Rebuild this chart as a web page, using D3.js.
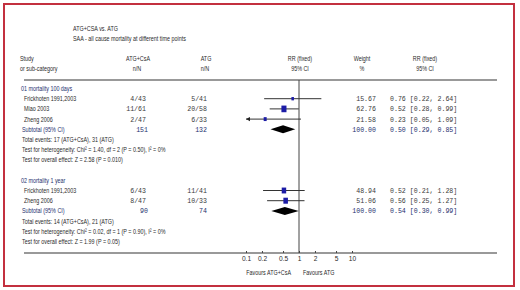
<!DOCTYPE html>
<html>
<head>
<meta charset="utf-8">
<script src="https://cdn.jsdelivr.net/npm/d3@7"></script>
<style>
  body { margin: 0; background: #fff; }
  .sans { font-family: "Liberation Sans", Arial, sans-serif; font-size: 7.4px; fill: #2a2a2a; }
  .mono { font-family: "Liberation Mono", "Courier New", monospace; font-size: 6.6px; fill: #3a3a3a; }
  .sub { fill: #24306e; }
</style>
</head>
<body>
<div id="chart"></div>
<script>
// data
const groups = ["01 mortality 100 days", "02 mortality 1 year"];
const studies = ["Frickhoten 1991,2003", "Miao 2003", "Zheng 2006", "Frickhoten 1991,2003", "Zheng 2006"];
const studyGroup = [0, 0, 0, 1, 1];
const eventsTrt = ["4/43", "11/61", "2/47", "6/43", "8/47"];
const eventsCtl = ["5/41", "20/58", "6/33", "11/41", "10/33"];
const weights = [15.67, 62.76, 21.58, 48.94, 51.06];
const rr = [0.76, 0.52, 0.23, 0.52, 0.56];
const rrLo = [0.22, 0.28, 0.05, 0.21, 0.25];
const rrHi = [2.64, 0.99, 1.09, 1.28, 1.27];
const subTrt = [151, 90];
const subCtl = [132, 74];
const subRR = [0.50, 0.54];
const subLo = [0.29, 0.30];
const subHi = [0.85, 0.99];
const totalEvents = ["Total events: 17 (ATG+CsA), 31 (ATG)", "Total events: 14 (ATG+CsA), 21 (ATG)"];
const hetero = ["Test for heterogeneity: Chi\u00b2 = 1.40, df = 2 (P = 0.50), I\u00b2 = 0%",
                "Test for heterogeneity: Chi\u00b2 = 0.02, df = 1 (P = 0.90), I\u00b2 = 0%"];
const overall = ["Test for overall effect: Z = 2.58 (P = 0.010)", "Test for overall effect: Z = 1.99 (P = 0.05)"];
const axisTicks = [0.1, 0.2, 0.5, 1, 2, 5, 10];

const W = 520, H = 290;
const f2 = d3.format(".2f");

const svg = d3.select("#chart").append("svg")
  .attr("width", W).attr("height", H);

// red frame
svg.append("rect")
  .attr("x", 4).attr("y", 4).attr("width", 510).attr("height", 282)
  .attr("fill", "none").attr("stroke", "#c3303f").attr("stroke-width", 2);

// row scale: 16 text rows between the two rules
const row = d3.scaleLinear().domain([0, 15]).range([88.5, 241.5]);
const x = d3.scaleLog().domain([0.1, 10]).range([246, 352]).clamp(true);
const size = d3.scaleSqrt().domain([0, 100]).range([0, 8.4]);

// condensed text helper
function txt(xp, yp, s, anchor, cls) {
  return svg.append("text")
    .attr("class", cls || "sans")
    .attr("transform", "translate(" + xp + "," + yp + ") scale(0.73,1)")
    .attr("text-anchor", anchor || "start")
    .text(s);
}
function mono(xp, yp, s, anchor, cls) {
  return svg.append("text")
    .attr("class", "mono" + (cls ? " " + cls : ""))
    .attr("x", xp).attr("y", yp)
    .attr("text-anchor", anchor || "start")
    .text(s);
}

// titles
txt(73, 30.5, "ATG+CSA vs. ATG");
txt(73, 40.5, "SAA - all cause mortality at different time points");

// headers
txt(20, 60.5, "Study");
txt(20, 71, "or sub-category");
txt(138, 60.5, "ATG+CsA", "middle");
txt(137, 71, "n/N", "middle");
txt(206, 60.5, "ATG", "middle");
txt(205, 71, "n/N", "middle");
txt(300, 60.5, "RR (fixed)", "middle");
txt(300, 71, "95% CI", "middle");
txt(362, 60.5, "Weight", "middle");
txt(362, 71, "%", "middle");
txt(425, 60.5, "RR (fixed)", "middle");
txt(425, 71, "95% CI", "middle");

// rules
svg.append("line").attr("x1", 24).attr("x2", 497).attr("y1", 80).attr("y2", 80)
  .attr("stroke", "#777").attr("stroke-width", 1.5);
svg.append("line").attr("x1", 24).attr("x2", 497).attr("y1", 253).attr("y2", 253)
  .attr("stroke", "#777").attr("stroke-width", 1.5);

// line of no effect
svg.append("line").attr("x1", x(1)).attr("x2", x(1)).attr("y1", 80).attr("y2", 253)
  .attr("stroke", "#444").attr("stroke-width", 1);

const base = 2.5; // text baseline offset from row centre

groups.forEach(function(gname, g) {
  let r0 = g * 9;
  txt(21, row(r0) + base, gname, "start", "sans sub");

  let idx = d3.range(studies.length).filter(i => studyGroup[i] === g);
  idx.forEach(function(i, k) {
    let yc = row(r0 + 1 + k);
    txt(24, yc + base, studies[i]);
    mono(146, yc + base, eventsTrt[i], "end");
    mono(207, yc + base, eventsCtl[i], "end");
    mono(376, yc + base, f2(weights[i]), "end");
    mono(390, yc + base, f2(rr[i]) + " [" + f2(rrLo[i]) + ", " + f2(rrHi[i]) + "]");

    // CI line
    svg.append("line")
      .attr("x1", x(rrLo[i])).attr("x2", x(rrHi[i]))
      .attr("y1", yc).attr("y2", yc)
      .attr("stroke", "#333").attr("stroke-width", 1);
    if (rrLo[i] < x.domain()[0]) {
      let ax = x(rrLo[i]);
      svg.append("path")
        .attr("d", "M" + ax + "," + yc + "l4,-2.2v4.4z")
        .attr("fill", "#222");
    }
    let s = size(weights[i]);
    svg.append("rect")
      .attr("x", x(rr[i]) - s * 0.38).attr("y", yc - s / 2)
      .attr("width", s * 0.76).attr("height", s)
      .attr("fill", "#1c1ca6");
  });

  let rs = r0 + 1 + idx.length;
  let ys = row(rs);
  txt(22, ys + base, "Subtotal (95% CI)", "start", "sans sub");
  mono(148, ys + base, subTrt[g], "end", "sub");
  mono(207, ys + base, subCtl[g], "end", "sub");
  mono(376, ys + base, "100.00", "end", "sub");
  mono(390, ys + base, f2(subRR[g]) + " [" + f2(subLo[g]) + ", " + f2(subHi[g]) + "]", "start", "sub");

  svg.append("path")
    .attr("d", "M" + x(subLo[g]) + "," + ys +
               "L" + x(subRR[g]) + "," + (ys - 4) +
               "L" + x(subHi[g]) + "," + ys +
               "L" + x(subRR[g]) + "," + (ys + 4) + "Z")
    .attr("fill", "#000");

  txt(22, row(rs + 1) + base, totalEvents[g]);
  txt(22, row(rs + 2) + base, hetero[g]);
  txt(22, row(rs + 3) + base, overall[g]);
});

// axis
let axis = svg.append("g")
  .attr("transform", "translate(0,253)")
  .call(d3.axisBottom(x).tickValues(axisTicks).tickFormat(d3.format("~g"))
    .tickSizeInner(-2).tickSizeOuter(0).tickPadding(3));
axis.select(".domain").remove();
axis.selectAll(".tick line").attr("stroke", "#444");
axis.selectAll(".tick text")
  .attr("class", "sans")
  .attr("fill", null)
  .style("font-size", "6.6px");

txt(291, 275, "Favours ATG+CsA", "end");
txt(303, 275, "Favours ATG");
</script>
</body>
</html>
